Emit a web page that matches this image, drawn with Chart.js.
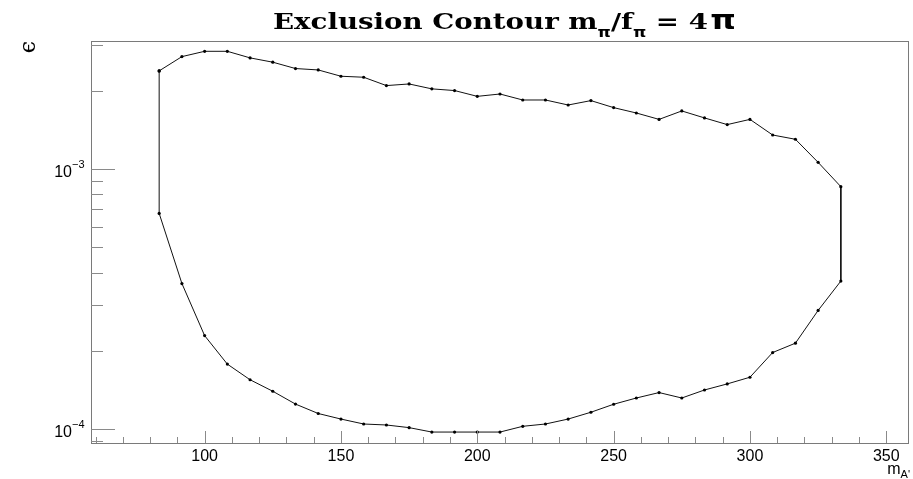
<!doctype html>
<html lang="en">
<head>
	<title>Exclusion Contour</title>
	<meta charset="UTF-8">
	<script src="https://cdn.jsdelivr.net/npm/chart.js@4.4.1/dist/chart.umd.min.js"></script>
	<style>
		html, body { margin: 0; padding: 0; background: #fff; }
	</style>
</head>
<body>
	<canvas id="chart" width="913" height="479"></canvas>
	<script>
		// mass points of the contour (same for upper and lower edge)
		const massValues = [83.33, 91.67, 100, 108.33, 116.67, 125, 133.33, 141.67, 150, 158.33,
			166.67, 175, 183.33, 191.67, 200, 208.33, 216.67, 225, 233.33, 241.67,
			250, 258.33, 266.67, 275, 283.33, 291.67, 300, 308.33, 316.67, 325, 333.33];

		// upper edge of the excluded region
		const epsUpper = [2.38e-3, 2.70e-3, 2.83e-3, 2.83e-3, 2.67e-3, 2.57e-3, 2.43e-3, 2.40e-3, 2.27e-3, 2.25e-3,
			2.09e-3, 2.12e-3, 2.03e-3, 2.00e-3, 1.90e-3, 1.94e-3, 1.84e-3, 1.84e-3, 1.76e-3, 1.83e-3,
			1.72e-3, 1.64e-3, 1.55e-3, 1.67e-3, 1.57e-3, 1.48e-3, 1.55e-3, 1.35e-3, 1.30e-3, 1.06e-3, 0.855e-3];

		// lower edge of the excluded region
		const epsLower = [6.75e-4, 3.63e-4, 2.29e-4, 1.78e-4, 1.55e-4, 1.40e-4, 1.25e-4, 1.15e-4, 1.095e-4, 1.048e-4,
			1.039e-4, 1.015e-4, 0.976e-4, 0.976e-4, 0.976e-4, 0.976e-4, 1.027e-4, 1.048e-4, 1.095e-4, 1.163e-4,
			1.248e-4, 1.319e-4, 1.384e-4, 1.319e-4, 1.416e-4, 1.494e-4, 1.585e-4, 1.972e-4, 2.142e-4, 2.861e-4, 3.709e-4];

		const xRange = [58.33, 358.33];
		const yRange = [8.86e-5, 3.10e-3];

		const xMajorTicks = [100, 150, 200, 250, 300, 350];
		const xMinorTicks = [60, 70, 80, 90, 110, 120, 130, 140, 160, 170, 180, 190, 210, 220, 230, 240,
			260, 270, 280, 290, 310, 320, 330, 340];
		const yMajorTicks = [1e-4, 1e-3];
		const yMajorLabels = [['10', '\u22124'], ['10', '\u22123']];
		const yMinorTicks = [9e-5, 2e-4, 3e-4, 4e-4, 5e-4, 6e-4, 7e-4, 8e-4, 9e-4, 2e-3, 3e-3];

		// closed polygon: upper edge left->right, lower edge right->left, back to start
		const contour = [];
		massValues.forEach((m, i) => contour.push({ x: m, y: epsUpper[i] }));
		for (let i = massValues.length - 1; i >= 0; i--) contour.push({ x: massValues[i], y: epsLower[i] });
		contour.push({ x: massValues[0], y: epsUpper[0] });

		// draws a row of text pieces between left and right, squeezed/stretched to fit
		function drawPieces(ctx, pieces, left, right, baseY) {
			let total = 0;
			pieces.forEach(p => {
				ctx.font = p.font;
				p.w = ctx.measureText(p.text).width + (p.gap || 0);
				total += p.w;
			});
			ctx.save();
			ctx.translate(left, 0);
			ctx.scale((right - left) / total, 1);
			ctx.textAlign = 'left';
			ctx.textBaseline = 'alphabetic';
			let x = 0;
			pieces.forEach(p => {
				ctx.font = p.font;
				ctx.fillText(p.text, x, baseY + (p.dy || 0));
				x += p.w;
			});
			ctx.restore();
		}

		// ROOT-like frame, inward ticks, labels and titles
		const rootFrame = {
			id: 'rootFrame',
			afterDraw(chart) {
				const ctx = chart.ctx;
				const area = chart.chartArea;
				const xs = chart.scales.x;
				const ys = chart.scales.y;
				ctx.save();

				ctx.strokeStyle = '#7a7a7a';
				ctx.lineWidth = 1;
				ctx.strokeRect(area.left + 0.5, area.top + 0.5, area.right - area.left - 1, area.bottom - area.top);

				ctx.strokeStyle = '#8a8a8a';
				ctx.beginPath();
				xMajorTicks.forEach(v => {
					const px = Math.round(xs.getPixelForValue(v)) + 0.5;
					ctx.moveTo(px, area.bottom); ctx.lineTo(px, area.bottom - 12);
				});
				xMinorTicks.forEach(v => {
					const px = Math.round(xs.getPixelForValue(v)) + 0.5;
					ctx.moveTo(px, area.bottom); ctx.lineTo(px, area.bottom - 6);
				});
				yMajorTicks.forEach(v => {
					const py = Math.round(ys.getPixelForValue(v)) + 0.5;
					ctx.moveTo(area.left, py); ctx.lineTo(area.left + 24, py);
				});
				yMinorTicks.forEach(v => {
					const py = Math.round(ys.getPixelForValue(v)) + 0.5;
					ctx.moveTo(area.left, py); ctx.lineTo(area.left + 12, py);
				});
				ctx.stroke();

				ctx.fillStyle = '#000';
				ctx.font = '16px "Liberation Sans", Arial, sans-serif';
				ctx.textAlign = 'center';
				ctx.textBaseline = 'alphabetic';
				xMajorTicks.forEach(v => ctx.fillText(String(v), xs.getPixelForValue(v), 461));

				yMajorTicks.forEach((v, i) => {
					const py = ys.getPixelForValue(v);
					ctx.textAlign = 'right';
					ctx.font = '16px "Liberation Sans", Arial, sans-serif';
					ctx.fillText(yMajorLabels[i][0], 72, py + 8);
					ctx.textAlign = 'left';
					ctx.font = '11px "Liberation Sans", Arial, sans-serif';
					ctx.fillText(yMajorLabels[i][1], 72, py - 1);
				});

				// x axis title m_A'
				ctx.textAlign = 'right';
				ctx.font = '11px "Liberation Sans", Arial, sans-serif';
				ctx.fillText("A'", 910, 478);
				const subW = ctx.measureText("A'").width;
				ctx.font = '16px "Liberation Sans", Arial, sans-serif';
				ctx.fillText('m', 910 - subW, 474);

				// y axis title epsilon
				ctx.save();
				ctx.translate(29, 47);
				ctx.rotate(-Math.PI / 2);
				ctx.textAlign = 'center';
				ctx.textBaseline = 'middle';
				ctx.font = '22px "DejaVu Serif", serif';
				ctx.fillText('\u03F5', 0, 0);
				ctx.restore();

				// title
				const serif = 'bold 23px "DejaVu Serif", "Liberation Serif", serif';
				const sub = 'bold 14px "DejaVu Sans", sans-serif';
				drawPieces(ctx, [
					{ text: 'Exclusion Contour m', font: serif },
					{ text: '\u03C0', font: sub, dy: 8 },
					{ text: '/f', font: serif },
					{ text: '\u03C0', font: sub, dy: 8 },
					{ text: ' = 4', font: serif, gap: 2 },
					{ text: '\u03C0', font: 'bold 27px "DejaVu Sans", sans-serif' }
				], 273, 736, 29);

				ctx.restore();
			}
		};

		const chart = new Chart(document.getElementById('chart'), {
			type: 'scatter',
			data: {
				datasets: [{
					label: 'contour',
					data: contour,
					showLine: true,
					borderColor: '#111',
					borderWidth: 1,
					pointRadius: 1.6,
					pointBackgroundColor: '#000',
					pointBorderWidth: 0,
					tension: 0,
				}],
			},
			options: {
				responsive: false,
				animation: false,
				layout: { padding: { left: 91, top: 41, right: 2, bottom: 36 } },
				plugins: { legend: { display: false }, tooltip: { enabled: false } },
				scales: {
					x: { type: 'linear', min: xRange[0], max: xRange[1], display: false },
					y: { type: 'logarithmic', min: yRange[0], max: yRange[1], display: false },
				},
			},
			plugins: [rootFrame],
		});
	</script>
</body>
</html>
